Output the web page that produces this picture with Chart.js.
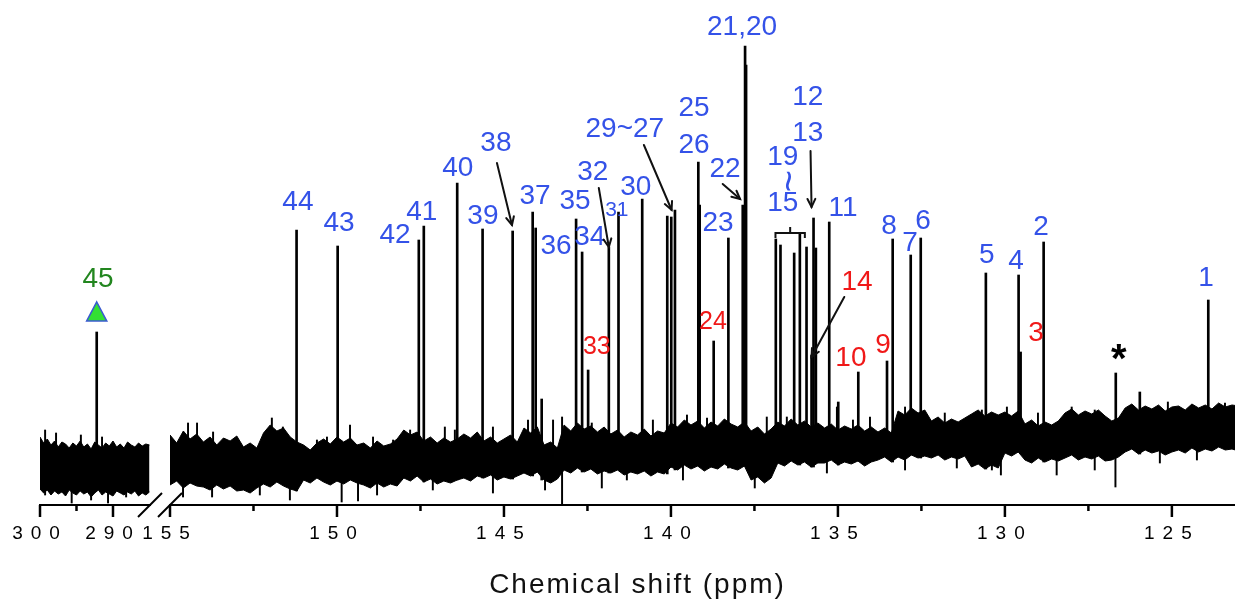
<!DOCTYPE html>
<html><head><meta charset="utf-8">
<script src="https://cdn.jsdelivr.net/npm/chart.js@4.4.1/dist/chart.umd.min.js"></script>
<style>
html,body{margin:0;padding:0;background:#fff;}
#wrap{position:relative;width:1235px;height:601px;}
canvas{position:absolute;left:0;top:0;}
</style></head><body>
<div id="wrap"><canvas id="cR" width="1235" height="601"></canvas><canvas id="cL" width="1235" height="601"></canvas></div>
<script>
// ================= DATA =================
// right panel (155 -> 123 ppm): peak positions (ppm) and peak tops (intensity)
const peakShift  = [151.21,149.98,147.55,147.40,146.40,145.64,144.74,144.14,144.05,143.87,142.84,142.66,142.48,141.86,141.57,140.86,140.11,139.99,139.88,139.18,139.14,138.72,138.28,137.85,137.78,137.75,136.86,136.72,136.31,136.14,135.94,135.79,135.73,135.66,135.26,134.99,134.39,133.53,133.36,132.82,132.52,130.57,129.59,129.53,128.84,126.68,125.96,123.91];
const peakHeight = [275,259,265,279,322,276,274,293,277,106,286,253,135,258,293,306,289,288,295,343,300,164,267,300,459,440,266,260,252,271,258,150,287,257,283,103,133,144,266,250,267,232,230,153,263,132,113,205];
// left panel (300 -> 285 ppm)
const leftPeakShift  = [292.23];
const leftPeakHeight = [173];

// isolated noise spikes: position, low, high
const spikeShift = [154.61,154.46,154.19,153.74,153.71,152.31,151.95,151.62,151.41,150.60,150.30,149.86,149.61,149.37,148.92,148.80,148.32,147.81,147.13,146.77,146.47,145.33,144.28,143.77,143.53,143.26,142.37,142.07,141.32,140.54,139.64,139.52,138.92,137.49,137.13,136.53,135.33,135.03,134.55,134.04,132.99,131.80,131.44,130.69,130.39,130.12,129.94,129.01,128.45,128.00,127.31,126.69,125.36,125.12,124.25,123.41];
const spikeLow   = [8,30,35,8,35,10,35,35,5,35,35,3,35,4,35,10,35,35,15,35,35,12,45,15,45,0,45,17,25,45,25,50,50,17,50,50,32,55,55,55,35,60,37,60,35,30,60,60,30,60,35,18,42,65,45,65];
const spikeHigh  = [45,82,82,45,73,45,87,78,45,65,68,40,80,40,68,45,65,75,45,78,75,78,85,45,85,88,82,50,55,85,55,90,87,50,88,88,60,98,85,88,98,92,65,95,65,60,98,92,60,98,95,60,75,103,75,102];
const leftSpikeShift = [299.3,297.8,295.66,294.4,293.0,291.5,290.68,288.2];
const leftSpikeLow   = [10,30,2,30,5,30,2,8];
const leftSpikeHigh  = [75,72,30,70,30,68,30,35];

// baseline noise envelope, right panel: samples from 155.0 ppm every 0.2 ppm
const noiseStart = 155.0, noiseStep = 0.2;
const noiseTop = [70,62,74,66,71, 63,68,60,67,64,69, 58,62,57, 72,80,74,77,68, 63, 60,55,62, 66,61,68,63,67,60, 62,57,64,59,61,66, 75,70,73, 64,68,62,67,63,66, 71,67,73, 64,68,62,66,70,63, 77,72,78, 60,63,57, 80,74,82,76,79,73,78, 71,75,68,73,70,76,69,74,72, 82,78,85,80,84,77,83,79,86,81,78,83, 74,78,71,76, 83,79,86,80,84,78,82, 77,81,75,79,76,80,74,78, 73,77,72, 94,90,97,92,95, 84,88,82,86,83,87, 91,95,89,93,90, 93,89,94, 81,85,79,83,80,84, 92,96,90,94,91,95,89, 84,87, 97,101,95,99,96,100,94,98, 99,95,101,97,100,96,102,98,100, 99];
const noiseBot = [20,24,17,22,19, 18,15,20,16,19,14, 15,12,17, 21,18,23,19,16, 14, 25,22,27, 23,20,24,21,25,22, 20,17,22,18,21,19, 27,24,29, 23,26,21,24,22,25, 27,24,29, 27,30,25,28,26,29, 32,29,33, 25,22,26, 35,32,37,33,36,31,34, 32,35,30,33,31,34,29,33,31, 38,35,40,36,39,34,38,36,41,37,35,39, 25,28,22,27, 42,39,44,40,43,38,42, 42,45,40,43,41,44,39,43, 45,48,43, 48,45,50,47,49, 47,50,45,48,46,49, 38,41,36,40,37, 52,49,53, 45,42,47,43,46,44, 47,50,45,48,46,49,44, 45,48, 53,56,51,55,52,54,50,53, 55,52,57,53,56,54,58,55,56, 54];
// left panel noise: samples from 300 ppm every 0.5 ppm
const leftNoiseStart = 300, leftNoiseStep = 0.5;
const leftNoiseTop = [68,62,66,60,64,58,63,61,57,62,59,64,58,61,56,63,60,57,62,59,64,58,61,57,63,60,58,62,59,61,60];
const leftNoiseBot = [16,12,15,10,14,11,13,9,15,12,10,14,11,13,8,12,15,10,13,11,9,14,12,10,13,11,14,9,12,10,13];

// axis
const axisTitle = 'Chemical shift (ppm)';

// ================= ANNOTATION LAYOUT =================
const FONT = "'Liberation Sans', Arial, Helvetica, sans-serif";
const BLUE = '#3452e8', RED = '#f01818', GREEN = '#22861f';
const STY = {
  b:  {font: '28px ' + FONT, color: BLUE},
  bs: {font: '21px ' + FONT, color: BLUE},
  r:  {font: '28px ' + FONT, color: RED},
  rs: {font: '25px ' + FONT, color: RED},
  k:  {font: 'bold 40px ' + FONT, color: '#000'},
  g:  {font: '28px ' + FONT, color: GREEN}
};
const labels = [
 ['44',151.17,303,'b'],['43',149.94,282,'b'],['42',148.26,270,'b'],['41',147.46,293,'b'],
 ['40',146.38,337,'b'],['39',145.63,289,'b'],['38',145.24,362,'b'],['37',144.07,309,'b'],
 ['36',143.44,259,'b'],['35',142.87,304,'b'],['34',142.43,268,'b'],['33',142.22,158,'rs'],
 ['32',142.34,333,'b'],['31',141.62,295,'bs'],['30',141.05,318,'b'],['29~27',141.38,376,'b'],
 ['25',139.31,397,'b'],['26',139.31,360,'b'],['22',138.38,336,'b'],['23',138.59,282,'b'],
 ['24',138.74,183,'rs'],['21,20',137.87,478,'b'],['12',135.90,408,'b'],['13',135.90,372,'b'],
 ['19',136.65,348,'b'],['15',136.65,302,'b'],['11',134.85,297,'b'],['14',134.43,223,'r'],
 ['10',134.61,147,'r'],['9',133.65,160,'r'],['8',133.47,279,'b'],['7',132.84,262,'b'],
 ['6',132.45,284,'b'],['5',130.54,250,'b'],['4',129.67,244,'b'],['3',129.07,172,'r'],
 ['2',128.92,278,'b'],['*',126.59,144,'k'],['1',123.98,227,'b']
];
const arrows = [
 [145.21,342,144.76,280],[142.16,317,141.86,258],[140.81,360,139.98,295],
 [138.45,321,137.93,306],[135.82,354,135.79,298],[134.81,208,135.79,148]
];
const bracket = {from:136.87, to:135.99, mid:136.43, level:272};
const wave = {shift:136.56, level:324};
const leftLabels = [['45',292.05,226,'g']];
const leftMarker = {shift:292.23, low:184, high:203};

// ================= HELPERS =================
function isMult(v, s){ return Math.abs(v/s - Math.round(v/s)) < 1e-6; }
function text(ctx, t, x, y, st){
  ctx.save(); ctx.font = st.font; ctx.fillStyle = st.color;
  ctx.textAlign = 'center'; ctx.textBaseline = 'middle';
  ctx.fillText(t, x, y); ctx.restore();
}
function arrow(ctx, x1, y1, x2, y2){
  ctx.save(); ctx.strokeStyle = '#111'; ctx.lineWidth = 2; ctx.lineCap = 'round';
  ctx.beginPath(); ctx.moveTo(x1,y1); ctx.lineTo(x2,y2); ctx.stroke();
  const a = Math.atan2(y2-y1, x2-x1), L = 9, w = 0.45;
  ctx.beginPath();
  ctx.moveTo(x2 - L*Math.cos(a-w), y2 - L*Math.sin(a-w));
  ctx.lineTo(x2, y2);
  ctx.lineTo(x2 - L*Math.cos(a+w), y2 - L*Math.sin(a+w));
  ctx.stroke(); ctx.restore();
}
function slash(ctx, cx, cy){
  ctx.save(); ctx.strokeStyle = '#000'; ctx.lineWidth = 2;
  ctx.beginPath(); ctx.moveTo(cx-12, cy+12); ctx.lineTo(cx+12, cy-12); ctx.stroke(); ctx.restore();
}
function setSpacing(ctx, v){ try { ctx.letterSpacing = v; } catch(e) {} }

function buildChart(id, cfg){
  const nTop = cfg.noiseTop.map((v,i)=>({x: cfg.noiseStart - i*cfg.noiseStep, y: v}));
  const nBot = cfg.noiseBot.map((v,i)=>({x: cfg.noiseStart - i*cfg.noiseStep, y: v}));
  const baseAt = s => {
    const i = Math.min(cfg.noiseBot.length-1, Math.max(0, Math.round((cfg.noiseStart - s)/cfg.noiseStep)));
    return cfg.noiseBot[i];
  };
  const peaks = cfg.peakShift.map((s,i)=>({x: s, y: [baseAt(s), cfg.peakHeight[i]]}));
  const spikes = cfg.spikeShift.map((s,i)=>({x: s, y: [cfg.spikeLow[i], cfg.spikeHigh[i]]}));
  const tickPlugin = {
    id: 'ticks' + id,
    beforeDraw(chart){ setSpacing(chart.ctx, '8px'); },
    beforeDatasetsDraw(chart){ setSpacing(chart.ctx, '0px'); },
    afterDraw(chart){
      const sc = chart.scales.x, ctx = chart.ctx, yb = chart.chartArea.bottom;
      setSpacing(ctx, '0px');
      ctx.save(); ctx.strokeStyle = '#000'; ctx.lineWidth = 2.5;
      sc.ticks.forEach(t => {
        const v = t.value;
        if (v < cfg.skipBelow || !isMult(v, cfg.tickStep)) return;
        const x = sc.getPixelForValue(v);
        const len = isMult(v, cfg.labelStep) ? 12 : 6;
        ctx.beginPath(); ctx.moveTo(x, yb); ctx.lineTo(x, yb + len); ctx.stroke();
      });
      ctx.restore();
      cfg.decorate(chart);
    }
  };
  return new Chart(document.getElementById(id), {
    type: 'line',
    data: { datasets: [
      {type:'bar', data: peaks, backgroundColor:'#000', barThickness: 2, grouped:false, order:0},
      {type:'bar', data: spikes, backgroundColor:'#000', barThickness: 1.3, grouped:false, order:1},
      {data: nTop, borderColor:'#000', backgroundColor:'#000', borderWidth:1, pointRadius:0, tension:0, fill:'+1', order:2},
      {data: nBot, borderColor:'#000', backgroundColor:'#000', borderWidth:1, pointRadius:0, tension:0, fill:false, order:3}
    ]},
    options: {
      responsive:false, animation:false, events:[],
      layout:{padding:{left:cfg.padLeft, right:cfg.padRight, top:25, bottom:0}},
      plugins:{legend:{display:false}, tooltip:{enabled:false}},
      scales:{
        x:{type:'linear', reverse:true, min:cfg.min, max:cfg.max, offset:false,
           grid:{display:false, drawTicks:false},
           border:{display:true, color:'#000', width:2},
           ticks:{stepSize:cfg.tickStep, includeBounds:false, autoSkip:false, maxRotation:0, minRotation:0,
                  padding:17, color:'#000', font:{family:FONT, size:19},
                  callback:(v)=> (v >= cfg.skipBelow && isMult(v, cfg.labelStep)) ? String(Math.round(v)) : ''},
           afterFit:(s)=>{ s.height = 96; }},
        y:{display:false, min:0, max:480}
      }
    },
    plugins:[tickPlugin]
  });
}

const AXIS_LEFT = 40, AXIS_RIGHT = 1235;

// right panel
buildChart('cR', {
  min:123.11, max:155, padLeft:170, padRight:0, tickStep:2.5, labelStep:5, skipBelow:-Infinity,
  noiseStart, noiseStep, noiseTop, noiseBot, peakShift, peakHeight, spikeShift, spikeLow, spikeHigh,
  decorate(chart){
    const ctx = chart.ctx, xs = chart.scales.x, ys = chart.scales.y;
    const X = v => xs.getPixelForValue(v), Y = v => ys.getPixelForValue(v);
    labels.forEach(l => text(ctx, l[0], X(l[1]), Y(l[2]), STY[l[3]]));
    // rotated tilde for 19~15
    ctx.save(); ctx.translate(X(wave.shift), Y(wave.level)); ctx.rotate(Math.PI/2);
    ctx.font = '38px ' + FONT; ctx.fillStyle = BLUE; ctx.textAlign='center'; ctx.textBaseline='middle';
    ctx.fillText('~', 0, 0); ctx.restore();
    arrows.forEach(a => arrow(ctx, X(a[0]), Y(a[1]), X(a[2]), Y(a[3])));
    // bracket
    ctx.save(); ctx.strokeStyle='#111'; ctx.lineWidth=2;
    const by = Y(bracket.level);
    ctx.beginPath();
    ctx.moveTo(X(bracket.from), by+5); ctx.lineTo(X(bracket.from), by); ctx.lineTo(X(bracket.to), by); ctx.lineTo(X(bracket.to), by+5);
    ctx.moveTo(X(bracket.mid), by); ctx.lineTo(X(bracket.mid), by-6);
    ctx.stroke(); ctx.restore();
    // axis break mark
    slash(ctx, chart.chartArea.left, chart.chartArea.bottom);
    // axis title centred on the whole broken axis
    ctx.save(); ctx.font = '28px ' + FONT; ctx.fillStyle = '#111';
    setSpacing(ctx, '2px');
    ctx.textAlign = 'center'; ctx.textBaseline = 'alphabetic';
    ctx.fillText(axisTitle, (AXIS_LEFT + AXIS_RIGHT)/2, 593);
    ctx.restore();
    setSpacing(ctx, '0px');
  }
});

// left panel
buildChart('cL', {
  min:284.93, max:300, padLeft:AXIS_LEFT, padRight:1235-150, tickStep:5, labelStep:10, skipBelow:288,
  noiseStart:leftNoiseStart, noiseStep:leftNoiseStep, noiseTop:leftNoiseTop, noiseBot:leftNoiseBot,
  peakShift:leftPeakShift, peakHeight:leftPeakHeight,
  spikeShift:leftSpikeShift, spikeLow:leftSpikeLow, spikeHigh:leftSpikeHigh,
  decorate(chart){
    const ctx = chart.ctx, xs = chart.scales.x, ys = chart.scales.y;
    const X = v => xs.getPixelForValue(v), Y = v => ys.getPixelForValue(v);
    leftLabels.forEach(l => text(ctx, l[0], X(l[1]), Y(l[2]), STY[l[3]]));
    const cx = X(leftMarker.shift), yt = Y(leftMarker.high), yb = Y(leftMarker.low);
    ctx.save(); ctx.beginPath();
    ctx.moveTo(cx, yt); ctx.lineTo(cx+10, yb); ctx.lineTo(cx-10, yb); ctx.closePath();
    ctx.fillStyle = '#33e033'; ctx.fill(); ctx.strokeStyle = '#3a5bd0'; ctx.lineWidth = 1.6; ctx.stroke();
    ctx.restore();
    slash(ctx, chart.chartArea.right, chart.chartArea.bottom);
  }
});
</script>
</body></html>
